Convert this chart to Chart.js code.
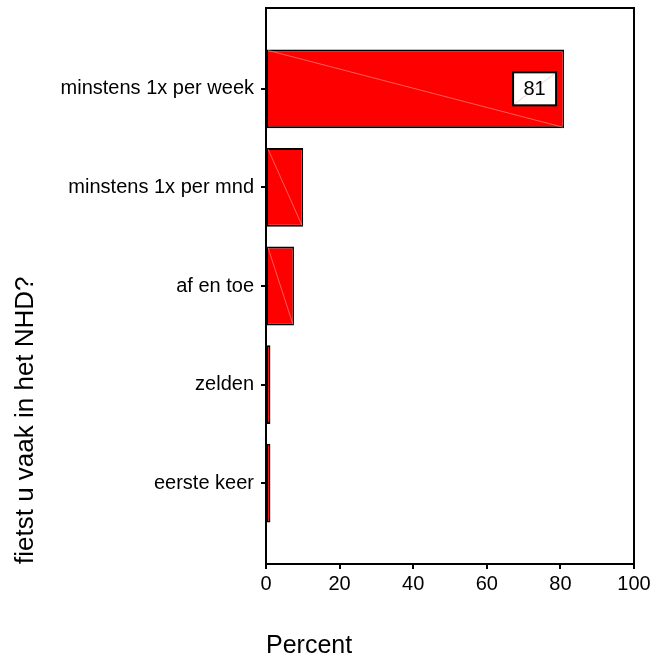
<!DOCTYPE html>
<html>
<head>
<meta charset="utf-8">
<script src="https://cdn.jsdelivr.net/npm/chart.js@4/dist/chart.umd.min.js"></script>
<style>
  html, body { margin: 0; padding: 0; background: #ffffff; }
  #wrap { width: 654px; height: 661px; }
</style>
</head>
<body>
<div id="wrap"><canvas id="c" width="654" height="661"></canvas></div>
<script>
// ---- data ----
const categories = ['minstens 1x per week', 'minstens 1x per mnd', 'af en toe', 'zelden', 'eerste keer'];
const percentValues = [81.0, 10.1, 7.6, 1.2, 1.2];
const valueLabels = ['81', '', '', '', ''];
const xTickValues = [0, 20, 40, 60, 80, 100];
const xTitle = 'Percent';
const yTitle = 'fietst u vaak in het NHD?';

const FONT = 'Liberation Sans, Arial, Helvetica, sans-serif';
const n = categories.length;

// categories are listed top to bottom; position index counts from the bottom
const points = percentValues.map((v, i) => ({ x: v, y: n - 1 - i }));

const framePlugin = {
  id: 'frame',
  afterDatasetsDraw(chart) {
    const ctx = chart.ctx;
    const meta = chart.getDatasetMeta(0);
    ctx.save();
    // faint diagonal artefacts across bars
    meta.data.forEach((el) => {
      const p = el.getProps(['x', 'y', 'base', 'height'], true);
      if (p.x - p.base < 8) return;
      ctx.strokeStyle = 'rgba(255,175,175,0.75)';
      ctx.lineWidth = 0.7;
      ctx.beginPath();
      ctx.moveTo(p.base + 1, p.y - p.height / 2 + 1);
      ctx.lineTo(p.x - 1, p.y + p.height / 2 - 1);
      ctx.stroke();
    });
    // value label boxes
    meta.data.forEach((el, i) => {
      const txt = valueLabels[i];
      if (!txt) return;
      const p = el.getProps(['x', 'y'], true);
      const w = 43, h = 33;
      const right = p.x - 8;
      const left = right - w;
      const top = p.y - h / 2;
      ctx.fillStyle = '#ffffff';
      ctx.fillRect(left, top, w, h);
      ctx.strokeStyle = 'rgba(255,160,160,0.8)';
      ctx.lineWidth = 0.7;
      ctx.beginPath();
      ctx.moveTo(left + 1, top + h - 1);
      ctx.lineTo(right - 1, top + 1);
      ctx.stroke();
      ctx.strokeStyle = '#000000';
      ctx.lineWidth = 2;
      ctx.strokeRect(left, top, w, h);
      ctx.fillStyle = '#000000';
      ctx.font = '20px ' + FONT;
      ctx.textAlign = 'center';
      ctx.textBaseline = 'middle';
      ctx.fillText(txt, (left + right) / 2, p.y + 1);
    });
    // top and right frame of the plot area
    const a = chart.chartArea;
    ctx.strokeStyle = '#000000';
    ctx.lineWidth = 2;
    ctx.beginPath();
    ctx.moveTo(a.left, a.top);
    ctx.lineTo(a.right, a.top);
    ctx.lineTo(a.right, a.bottom);
    ctx.stroke();
    ctx.restore();
  }
};

new Chart(document.getElementById('c'), {
  type: 'bar',
  data: {
    datasets: [{
      data: points,
      backgroundColor: '#ff0000',
      borderColor: '#000000',
      borderWidth: { top: 2, bottom: 2, left: 1, right: 1.5 },
      borderSkipped: false,
      categoryPercentage: 0.8,
      barPercentage: 1.0
    }]
  },
  options: {
    indexAxis: 'y',
    responsive: false,
    animation: false,
    devicePixelRatio: 1,
    layout: { padding: { top: 8, right: 20, bottom: 0, left: 0 } },
    plugins: { legend: { display: false }, tooltip: { enabled: false } },
    scales: {
      x: {
        type: 'linear',
        position: 'bottom',
        min: 0,
        max: 100,
        afterBuildTicks(scale) { scale.ticks = xTickValues.map(v => ({ value: v })); },
        afterFit(scale) { scale.height = 97; scale.paddingLeft = 0; scale.paddingRight = 0; },
        ticks: { color: '#000', font: { family: FONT, size: 20 }, padding: 3, maxRotation: 0 },
        grid: { display: true, drawOnChartArea: false, drawTicks: true, tickLength: 5, color: '#000', lineWidth: 2 },
        border: { display: true, color: '#000', width: 2 },
        title: { display: true, text: xTitle, align: 'start', color: '#000', font: { family: FONT, size: 25 }, padding: { top: 0, bottom: 0 } }
      },
      y: {
        type: 'linear',
        position: 'left',
        offset: false,
        min: -0.82,
        max: n - 1 + 0.82,
        afterBuildTicks(scale) { scale.ticks = categories.map((c, i) => ({ value: i })); },
        afterFit(scale) { scale.width = 266; scale.paddingTop = 0; scale.paddingBottom = 0; },
        ticks: {
          color: '#000',
          font: { family: FONT, size: 20 },
          padding: 7,
          callback: (v) => categories[n - 1 - v]
        },
        grid: { display: true, offset: false, drawOnChartArea: false, drawTicks: true, tickLength: 5, color: '#000', lineWidth: 2 },
        border: { display: true, color: '#000', width: 2 },
        title: { display: true, text: yTitle, align: 'start', color: '#000', font: { family: FONT, size: 26 }, padding: { top: 10, bottom: 0 } }
      }
    }
  },
  plugins: [framePlugin]
});
</script>
</body>
</html>
